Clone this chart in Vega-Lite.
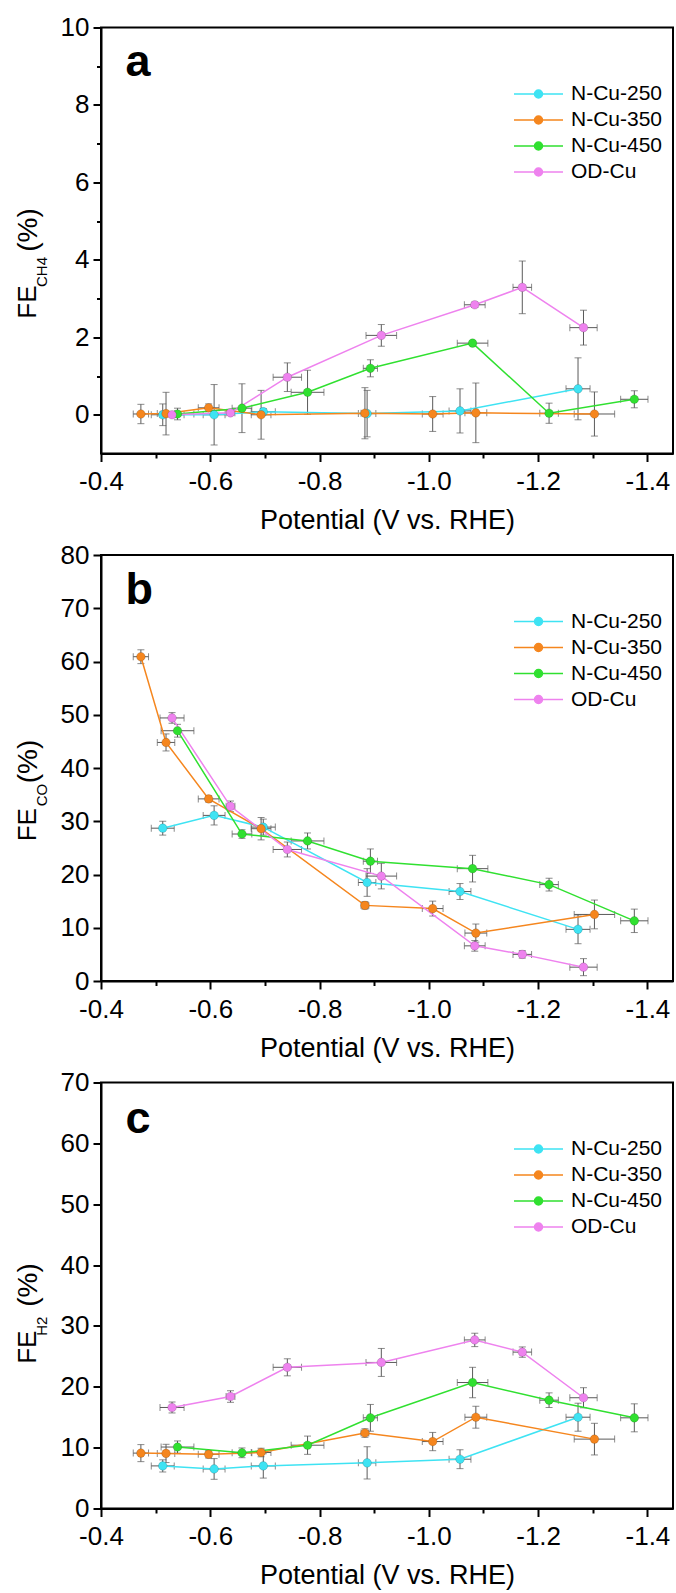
{
  "$schema": "https://vega.github.io/schema/vega-lite/v6.json",
  "padding": {"left": 14, "top": 13.5, "right": 0, "bottom": 0},
  "autosize": {"type": "pad"},
  "background": "white",
  "config": {
    "font": "Liberation Sans",
    "view": {"stroke": "black", "strokeWidth": 2},
    "axis": {
      "domainColor": "black", "domainWidth": 2, "tickColor": "black", "tickWidth": 2,
      "labelColor": "black", "labelFontSize": 26, "labelFont": "Liberation Sans",
      "titleFont": "Liberation Sans", "titleFontSize": 27, "titleFontWeight": "normal", "titleColor": "black",
      "grid": false, "labelOverlap": false, "labelFlush": false
    },
    "axisX": {"labelPadding": 7, "titlePadding": 13},
    "axisY": {"labelPadding": 4},
    "legend": {"labelFont": "Liberation Sans", "labelFontSize": 21, "labelColor": "black"}
  },
  "datasets": {
    "fe": [
      {"p": "a", "s": "N-Cu-250", "v": -0.513, "ev": 0.021, "fe": 0.0, "efe": 0.28},
      {"p": "a", "s": "N-Cu-250", "v": -0.607, "ev": 0.02, "fe": 0.0, "efe": 0.78},
      {"p": "a", "s": "N-Cu-250", "v": -0.697, "ev": 0.022, "fe": 0.08, "efe": 0.08},
      {"p": "a", "s": "N-Cu-250", "v": -0.887, "ev": 0.016, "fe": 0.03, "efe": 0.6},
      {"p": "a", "s": "N-Cu-250", "v": -1.057, "ev": 0.02, "fe": 0.1, "efe": 0.57},
      {"p": "a", "s": "N-Cu-250", "v": -1.273, "ev": 0.022, "fe": 0.67, "efe": 0.8},
      {"p": "a", "s": "N-Cu-350", "v": -0.473, "ev": 0.014, "fe": 0.02, "efe": 0.25},
      {"p": "a", "s": "N-Cu-350", "v": -0.519, "ev": 0.016, "fe": 0.03, "efe": 0.55},
      {"p": "a", "s": "N-Cu-350", "v": -0.597, "ev": 0.019, "fe": 0.18, "efe": 0.1},
      {"p": "a", "s": "N-Cu-350", "v": -0.693, "ev": 0.018, "fe": 0.0, "efe": 0.63},
      {"p": "a", "s": "N-Cu-350", "v": -0.883, "ev": 0.007, "fe": 0.04, "efe": 0.66},
      {"p": "a", "s": "N-Cu-350", "v": -1.007, "ev": 0.019, "fe": 0.02, "efe": 0.45},
      {"p": "a", "s": "N-Cu-350", "v": -1.086, "ev": 0.02, "fe": 0.05, "efe": 0.77},
      {"p": "a", "s": "N-Cu-350", "v": -1.303, "ev": 0.037, "fe": 0.02, "efe": 0.57},
      {"p": "a", "s": "N-Cu-450", "v": -0.54, "ev": 0.03, "fe": 0.02, "efe": 0.15},
      {"p": "a", "s": "N-Cu-450", "v": -0.658, "ev": 0.018, "fe": 0.17, "efe": 0.63},
      {"p": "a", "s": "N-Cu-450", "v": -0.778, "ev": 0.03, "fe": 0.58, "efe": 0.57},
      {"p": "a", "s": "N-Cu-450", "v": -0.893, "ev": 0.013, "fe": 1.2, "efe": 0.22},
      {"p": "a", "s": "N-Cu-450", "v": -1.08, "ev": 0.028, "fe": 1.85, "efe": 0.05},
      {"p": "a", "s": "N-Cu-450", "v": -1.22, "ev": 0.017, "fe": 0.04, "efe": 0.26},
      {"p": "a", "s": "N-Cu-450", "v": -1.376, "ev": 0.025, "fe": 0.4, "efe": 0.22},
      {"p": "a", "s": "OD-Cu", "v": -0.53, "ev": 0.022, "fe": 0.0, "efe": 0.05},
      {"p": "a", "s": "OD-Cu", "v": -0.637, "ev": 0.008, "fe": 0.05, "efe": 0.05},
      {"p": "a", "s": "OD-Cu", "v": -0.741, "ev": 0.026, "fe": 0.97, "efe": 0.37},
      {"p": "a", "s": "OD-Cu", "v": -0.913, "ev": 0.028, "fe": 2.05, "efe": 0.28},
      {"p": "a", "s": "OD-Cu", "v": -1.084, "ev": 0.019, "fe": 2.84, "efe": 0.07},
      {"p": "a", "s": "OD-Cu", "v": -1.171, "ev": 0.017, "fe": 3.29, "efe": 0.68},
      {"p": "a", "s": "OD-Cu", "v": -1.283, "ev": 0.025, "fe": 2.25, "efe": 0.45},

      {"p": "b", "s": "N-Cu-250", "v": -0.513, "ev": 0.021, "fe": 28.7, "efe": 1.3},
      {"p": "b", "s": "N-Cu-250", "v": -0.607, "ev": 0.02, "fe": 31.1, "efe": 1.8},
      {"p": "b", "s": "N-Cu-250", "v": -0.697, "ev": 0.022, "fe": 28.9, "efe": 1.5},
      {"p": "b", "s": "N-Cu-250", "v": -0.887, "ev": 0.016, "fe": 18.5, "efe": 2.6},
      {"p": "b", "s": "N-Cu-250", "v": -1.057, "ev": 0.02, "fe": 16.8, "efe": 1.5},
      {"p": "b", "s": "N-Cu-250", "v": -1.273, "ev": 0.022, "fe": 9.7, "efe": 2.7},
      {"p": "b", "s": "N-Cu-350", "v": -0.473, "ev": 0.014, "fe": 60.9, "efe": 1.3},
      {"p": "b", "s": "N-Cu-350", "v": -0.519, "ev": 0.016, "fe": 44.8, "efe": 1.6},
      {"p": "b", "s": "N-Cu-350", "v": -0.597, "ev": 0.019, "fe": 34.2, "efe": 0.6},
      {"p": "b", "s": "N-Cu-350", "v": -0.693, "ev": 0.018, "fe": 28.6, "efe": 2.1},
      {"p": "b", "s": "N-Cu-350", "v": -0.883, "ev": 0.007, "fe": 14.2, "efe": 0.7},
      {"p": "b", "s": "N-Cu-350", "v": -1.007, "ev": 0.019, "fe": 13.6, "efe": 1.4},
      {"p": "b", "s": "N-Cu-350", "v": -1.086, "ev": 0.02, "fe": 9.0, "efe": 1.7},
      {"p": "b", "s": "N-Cu-350", "v": -1.303, "ev": 0.037, "fe": 12.5, "efe": 2.7},
      {"p": "b", "s": "N-Cu-450", "v": -0.54, "ev": 0.03, "fe": 47.0, "efe": 1.2},
      {"p": "b", "s": "N-Cu-450", "v": -0.658, "ev": 0.018, "fe": 27.6, "efe": 0.8},
      {"p": "b", "s": "N-Cu-450", "v": -0.778, "ev": 0.03, "fe": 26.3, "efe": 1.5},
      {"p": "b", "s": "N-Cu-450", "v": -0.893, "ev": 0.013, "fe": 22.5, "efe": 2.3},
      {"p": "b", "s": "N-Cu-450", "v": -1.08, "ev": 0.028, "fe": 21.1, "efe": 2.5},
      {"p": "b", "s": "N-Cu-450", "v": -1.22, "ev": 0.017, "fe": 18.1, "efe": 1.2},
      {"p": "b", "s": "N-Cu-450", "v": -1.376, "ev": 0.025, "fe": 11.3, "efe": 2.2},
      {"p": "b", "s": "OD-Cu", "v": -0.53, "ev": 0.022, "fe": 49.4, "efe": 1.0},
      {"p": "b", "s": "OD-Cu", "v": -0.637, "ev": 0.008, "fe": 32.8, "efe": 1.0},
      {"p": "b", "s": "OD-Cu", "v": -0.741, "ev": 0.026, "fe": 24.7, "efe": 1.4},
      {"p": "b", "s": "OD-Cu", "v": -0.913, "ev": 0.028, "fe": 19.7, "efe": 2.4},
      {"p": "b", "s": "OD-Cu", "v": -1.084, "ev": 0.019, "fe": 6.6, "efe": 1.0},
      {"p": "b", "s": "OD-Cu", "v": -1.171, "ev": 0.017, "fe": 5.0, "efe": 0.7},
      {"p": "b", "s": "OD-Cu", "v": -1.283, "ev": 0.025, "fe": 2.6, "efe": 1.6},

      {"p": "c", "s": "N-Cu-250", "v": -0.513, "ev": 0.021, "fe": 7.0, "efe": 1.0},
      {"p": "c", "s": "N-Cu-250", "v": -0.607, "ev": 0.02, "fe": 6.5, "efe": 1.7},
      {"p": "c", "s": "N-Cu-250", "v": -0.697, "ev": 0.022, "fe": 7.0, "efe": 2.0},
      {"p": "c", "s": "N-Cu-250", "v": -0.887, "ev": 0.016, "fe": 7.5, "efe": 2.65},
      {"p": "c", "s": "N-Cu-250", "v": -1.057, "ev": 0.02, "fe": 8.1, "efe": 1.55},
      {"p": "c", "s": "N-Cu-250", "v": -1.273, "ev": 0.022, "fe": 15.0, "efe": 2.3},
      {"p": "c", "s": "N-Cu-350", "v": -0.473, "ev": 0.014, "fe": 9.1, "efe": 1.4},
      {"p": "c", "s": "N-Cu-350", "v": -0.519, "ev": 0.016, "fe": 9.05, "efe": 1.5},
      {"p": "c", "s": "N-Cu-350", "v": -0.597, "ev": 0.019, "fe": 8.9, "efe": 0.6},
      {"p": "c", "s": "N-Cu-350", "v": -0.693, "ev": 0.018, "fe": 9.2, "efe": 0.7},
      {"p": "c", "s": "N-Cu-350", "v": -0.883, "ev": 0.007, "fe": 12.4, "efe": 0.7},
      {"p": "c", "s": "N-Cu-350", "v": -1.007, "ev": 0.019, "fe": 11.0, "efe": 1.5},
      {"p": "c", "s": "N-Cu-350", "v": -1.086, "ev": 0.02, "fe": 15.0, "efe": 1.8},
      {"p": "c", "s": "N-Cu-350", "v": -1.303, "ev": 0.037, "fe": 11.4, "efe": 2.6},
      {"p": "c", "s": "N-Cu-450", "v": -0.54, "ev": 0.03, "fe": 10.1, "efe": 1.0},
      {"p": "c", "s": "N-Cu-450", "v": -0.658, "ev": 0.018, "fe": 9.15, "efe": 0.8},
      {"p": "c", "s": "N-Cu-450", "v": -0.778, "ev": 0.03, "fe": 10.4, "efe": 1.5},
      {"p": "c", "s": "N-Cu-450", "v": -0.893, "ev": 0.013, "fe": 14.9, "efe": 2.2},
      {"p": "c", "s": "N-Cu-450", "v": -1.08, "ev": 0.028, "fe": 20.7, "efe": 2.5},
      {"p": "c", "s": "N-Cu-450", "v": -1.22, "ev": 0.017, "fe": 17.8, "efe": 1.2},
      {"p": "c", "s": "N-Cu-450", "v": -1.376, "ev": 0.025, "fe": 14.9, "efe": 2.3},
      {"p": "c", "s": "OD-Cu", "v": -0.53, "ev": 0.022, "fe": 16.6, "efe": 0.9},
      {"p": "c", "s": "OD-Cu", "v": -0.637, "ev": 0.008, "fe": 18.4, "efe": 0.95},
      {"p": "c", "s": "OD-Cu", "v": -0.741, "ev": 0.026, "fe": 23.2, "efe": 1.4},
      {"p": "c", "s": "OD-Cu", "v": -0.913, "ev": 0.028, "fe": 24.0, "efe": 2.3},
      {"p": "c", "s": "OD-Cu", "v": -1.084, "ev": 0.019, "fe": 27.7, "efe": 1.1},
      {"p": "c", "s": "OD-Cu", "v": -1.171, "ev": 0.017, "fe": 25.7, "efe": 0.85},
      {"p": "c", "s": "OD-Cu", "v": -1.283, "ev": 0.025, "fe": 18.2, "efe": 1.65}
    ]
  },
  "bounds": "flush",
  "spacing": 101.5,
  "resolve": {"legend": {"color": "independent"}},
  "vconcat": [
    {
      "width": 572, "height": 426,
      "layer": [
        {"data": {"name": "fe"}, "transform": [{"filter": "datum.p == 'a'"}],
         "mark": {"type": "errorbar", "ticks": {"size": 7}, "color": "#5a5a5a", "thickness": 1},
         "encoding": {
           "x": {"field": "v", "type": "quantitative", "scale": {"domain": [-0.4, -1.4468], "nice": false, "zero": false},
                 "axis": {"values": [-0.4, -0.5, -0.6, -0.7, -0.8, -0.9, -1.0, -1.1, -1.2, -1.3, -1.4],
                          "labelExpr": "abs(round(datum.value*10)) % 2 == 0 ? '-' + format(abs(datum.value), '.1f') : ''",
                          "tickSize": {"condition": {"test": "abs(round(datum.value*10)) % 2 == 0", "value": 8}, "value": 4.5},
                          "title": "Potential (V vs. RHE)"}},
           "y": {"field": "fe", "type": "quantitative", "scale": {"domain": [-1, 10], "nice": false, "zero": false},
                 "axis": {"values": [0, 1, 2, 3, 4, 5, 6, 7, 8, 9, 10],
                          "labelExpr": "round(datum.value) % 2 == 0 ? format(datum.value, 'd') : ''",
                          "tickSize": {"condition": {"test": "round(datum.value) % 2 == 0", "value": 8}, "value": 4.5},
                          "title": null}},
           "yError": {"field": "efe"}}},
        {"data": {"name": "fe"}, "transform": [{"filter": "datum.p == 'a'"}],
         "mark": {"type": "errorbar", "ticks": {"size": 7}, "color": "#5a5a5a", "thickness": 1},
         "encoding": {
           "x": {"field": "v", "type": "quantitative", "axis": {"title": "Potential (V vs. RHE)"}},
           "y": {"field": "fe", "type": "quantitative", "axis": {"title": null}},
           "xError": {"field": "ev"}}},
        {"data": {"name": "fe"}, "transform": [{"filter": "datum.p == 'a'"}],
         "mark": {"type": "line", "strokeWidth": 1.5},
         "encoding": {
           "x": {"field": "v", "type": "quantitative", "axis": {"title": "Potential (V vs. RHE)"}},
           "y": {"field": "fe", "type": "quantitative", "axis": {"title": null}},
           "color": {"field": "s", "type": "nominal",
            "scale": {"domain": ["N-Cu-250", "N-Cu-350", "N-Cu-450", "OD-Cu"], "range": ["#3ee3f3", "#f5861e", "#30e030", "#ee82ee"]},
            "legend": {"orient": "none", "legendX": 426.5, "legendY": 55.5, "title": null, "padding": 0,
                       "symbolType": "M-2.45,0H-0.4M0.4,0H2.45M-0.4,0A0.4,0.4,0,1,1,0.4,0A0.4,0.4,0,1,1,-0.4,0Z",
                       "symbolSize": 400, "symbolStrokeWidth": 1.5, "labelOffset": 21.5, "rowPadding": 5,
                       "encode": {"symbols": {"update": {"fill": {"scale": "color", "field": "value"}, "stroke": {"scale": "color", "field": "value"}, "opacity": {"value": 1}}}}}}}},
        {"data": {"name": "fe"}, "transform": [{"filter": "datum.p == 'a'"}],
         "mark": {"type": "point", "filled": true, "size": 75, "opacity": 1, "stroke": "#00000040", "strokeWidth": 0.6},
         "encoding": {
           "x": {"field": "v", "type": "quantitative", "axis": {"title": "Potential (V vs. RHE)"}},
           "y": {"field": "fe", "type": "quantitative", "axis": {"title": null}},
           "color": {"field": "s", "type": "nominal",
            "scale": {"domain": ["N-Cu-250", "N-Cu-350", "N-Cu-450", "OD-Cu"], "range": ["#3ee3f3", "#f5861e", "#30e030", "#ee82ee"]},
            "legend": {"orient": "none", "legendX": 426.5, "legendY": 55.5, "title": null, "padding": 0,
                       "symbolType": "M-2.45,0H-0.4M0.4,0H2.45M-0.4,0A0.4,0.4,0,1,1,0.4,0A0.4,0.4,0,1,1,-0.4,0Z",
                       "symbolSize": 400, "symbolStrokeWidth": 1.5, "labelOffset": 21.5, "rowPadding": 5,
                       "encode": {"symbols": {"update": {"fill": {"scale": "color", "field": "value"}, "stroke": {"scale": "color", "field": "value"}, "opacity": {"value": 1}}}}}}}},
        {"data": {"values": [{"label": "a"}]},
         "mark": {"type": "text", "align": "left", "baseline": "alphabetic", "fontSize": 45, "fontWeight": "bold", "color": "black"},
         "encoding": {"text": {"field": "label"}, "x": {"datum": -0.4448, "type": "quantitative"}, "y": {"datum": 8.753, "type": "quantitative"}}},
        {"data": {"values": [{"label": "FE"}]},
         "mark": {"type": "text", "angle": 270, "align": "left", "baseline": "alphabetic", "fontSize": 26, "color": "black"},
         "encoding": {"text": {"field": "label"}, "x": {"datum": -0.2811, "type": "quantitative"}, "y": {"datum": 2.48, "type": "quantitative"}}},
        {"data": {"values": [{"label": "CH4"}]},
         "mark": {"type": "text", "angle": 270, "align": "left", "baseline": "alphabetic", "fontSize": 15, "color": "black"},
         "encoding": {"text": {"field": "label"}, "x": {"datum": -0.3012, "type": "quantitative"}, "y": {"datum": 3.3, "type": "quantitative"}}},
        {"data": {"values": [{"label": "(%)"}]},
         "mark": {"type": "text", "angle": 270, "align": "left", "baseline": "alphabetic", "fontSize": 28, "color": "black"},
         "encoding": {"text": {"field": "label"}, "x": {"datum": -0.2829, "type": "quantitative"}, "y": {"datum": 4.21, "type": "quantitative"}}}
      ]
    },
    {
      "width": 572, "height": 426,
      "layer": [
        {"data": {"name": "fe"}, "transform": [{"filter": "datum.p == 'b'"}],
         "mark": {"type": "errorbar", "ticks": {"size": 7}, "color": "#5a5a5a", "thickness": 1},
         "encoding": {
           "x": {"field": "v", "type": "quantitative", "scale": {"domain": [-0.4, -1.4468], "nice": false, "zero": false},
                 "axis": {"values": [-0.4, -0.5, -0.6, -0.7, -0.8, -0.9, -1.0, -1.1, -1.2, -1.3, -1.4],
                          "labelExpr": "abs(round(datum.value*10)) % 2 == 0 ? '-' + format(abs(datum.value), '.1f') : ''",
                          "tickSize": {"condition": {"test": "abs(round(datum.value*10)) % 2 == 0", "value": 8}, "value": 4.5},
                          "title": "Potential (V vs. RHE)"}},
           "y": {"field": "fe", "type": "quantitative", "scale": {"domain": [0, 80], "nice": false, "zero": false},
                 "axis": {"values": [0, 5, 10, 15, 20, 25, 30, 35, 40, 45, 50, 55, 60, 65, 70, 75, 80],
                          "labelExpr": "datum.value % 10 == 0 ? format(datum.value, 'd') : ''",
                          "tickSize": {"condition": {"test": "datum.value % 10 == 0", "value": 8}, "value": 4.5},
                          "title": null}},
           "yError": {"field": "efe"}}},
        {"data": {"name": "fe"}, "transform": [{"filter": "datum.p == 'b'"}],
         "mark": {"type": "errorbar", "ticks": {"size": 7}, "color": "#5a5a5a", "thickness": 1},
         "encoding": {
           "x": {"field": "v", "type": "quantitative", "axis": {"title": "Potential (V vs. RHE)"}},
           "y": {"field": "fe", "type": "quantitative", "axis": {"title": null}},
           "xError": {"field": "ev"}}},
        {"data": {"name": "fe"}, "transform": [{"filter": "datum.p == 'b'"}],
         "mark": {"type": "line", "strokeWidth": 1.5},
         "encoding": {
           "x": {"field": "v", "type": "quantitative", "axis": {"title": "Potential (V vs. RHE)"}},
           "y": {"field": "fe", "type": "quantitative", "axis": {"title": null}},
           "color": {"field": "s", "type": "nominal",
            "scale": {"domain": ["N-Cu-250", "N-Cu-350", "N-Cu-450", "OD-Cu"], "range": ["#3ee3f3", "#f5861e", "#30e030", "#ee82ee"]},
            "legend": {"orient": "none", "legendX": 426.5, "legendY": 55.5, "title": null, "padding": 0,
                       "symbolType": "M-2.45,0H-0.4M0.4,0H2.45M-0.4,0A0.4,0.4,0,1,1,0.4,0A0.4,0.4,0,1,1,-0.4,0Z",
                       "symbolSize": 400, "symbolStrokeWidth": 1.5, "labelOffset": 21.5, "rowPadding": 5,
                       "encode": {"symbols": {"update": {"fill": {"scale": "color", "field": "value"}, "stroke": {"scale": "color", "field": "value"}, "opacity": {"value": 1}}}}}}}},
        {"data": {"name": "fe"}, "transform": [{"filter": "datum.p == 'b'"}],
         "mark": {"type": "point", "filled": true, "size": 75, "opacity": 1, "stroke": "#00000040", "strokeWidth": 0.6},
         "encoding": {
           "x": {"field": "v", "type": "quantitative", "axis": {"title": "Potential (V vs. RHE)"}},
           "y": {"field": "fe", "type": "quantitative", "axis": {"title": null}},
           "color": {"field": "s", "type": "nominal",
            "scale": {"domain": ["N-Cu-250", "N-Cu-350", "N-Cu-450", "OD-Cu"], "range": ["#3ee3f3", "#f5861e", "#30e030", "#ee82ee"]},
            "legend": {"orient": "none", "legendX": 426.5, "legendY": 55.5, "title": null, "padding": 0,
                       "symbolType": "M-2.45,0H-0.4M0.4,0H2.45M-0.4,0A0.4,0.4,0,1,1,0.4,0A0.4,0.4,0,1,1,-0.4,0Z",
                       "symbolSize": 400, "symbolStrokeWidth": 1.5, "labelOffset": 21.5, "rowPadding": 5,
                       "encode": {"symbols": {"update": {"fill": {"scale": "color", "field": "value"}, "stroke": {"scale": "color", "field": "value"}, "opacity": {"value": 1}}}}}}}},
        {"data": {"values": [{"label": "b"}]},
         "mark": {"type": "text", "align": "left", "baseline": "alphabetic", "fontSize": 45, "fontWeight": "bold", "color": "black"},
         "encoding": {"text": {"field": "label"}, "x": {"datum": -0.4448, "type": "quantitative"}, "y": {"datum": 70.8, "type": "quantitative"}}},
        {"data": {"values": [{"label": "FE"}]},
         "mark": {"type": "text", "angle": 270, "align": "left", "baseline": "alphabetic", "fontSize": 26, "color": "black"},
         "encoding": {"text": {"field": "label"}, "x": {"datum": -0.2811, "type": "quantitative"}, "y": {"datum": 26.23, "type": "quantitative"}}},
        {"data": {"values": [{"label": "CO"}]},
         "mark": {"type": "text", "angle": 270, "align": "left", "baseline": "alphabetic", "fontSize": 15, "color": "black"},
         "encoding": {"text": {"field": "label"}, "x": {"datum": -0.3012, "type": "quantitative"}, "y": {"datum": 32.81, "type": "quantitative"}}},
        {"data": {"values": [{"label": "(%)"}]},
         "mark": {"type": "text", "angle": 270, "align": "left", "baseline": "alphabetic", "fontSize": 28, "color": "black"},
         "encoding": {"text": {"field": "label"}, "x": {"datum": -0.2829, "type": "quantitative"}, "y": {"datum": 37.13, "type": "quantitative"}}}
      ]
    },
    {
      "width": 572, "height": 426,
      "layer": [
        {"data": {"name": "fe"}, "transform": [{"filter": "datum.p == 'c'"}],
         "mark": {"type": "errorbar", "ticks": {"size": 7}, "color": "#5a5a5a", "thickness": 1},
         "encoding": {
           "x": {"field": "v", "type": "quantitative", "scale": {"domain": [-0.4, -1.4468], "nice": false, "zero": false},
                 "axis": {"values": [-0.4, -0.5, -0.6, -0.7, -0.8, -0.9, -1.0, -1.1, -1.2, -1.3, -1.4],
                          "labelExpr": "abs(round(datum.value*10)) % 2 == 0 ? '-' + format(abs(datum.value), '.1f') : ''",
                          "tickSize": {"condition": {"test": "abs(round(datum.value*10)) % 2 == 0", "value": 8}, "value": 4.5},
                          "title": "Potential (V vs. RHE)"}},
           "y": {"field": "fe", "type": "quantitative", "scale": {"domain": [0, 70], "nice": false, "zero": false},
                 "axis": {"values": [0, 5, 10, 15, 20, 25, 30, 35, 40, 45, 50, 55, 60, 65, 70],
                          "labelExpr": "datum.value % 10 == 0 ? format(datum.value, 'd') : ''",
                          "tickSize": {"condition": {"test": "datum.value % 10 == 0", "value": 8}, "value": 4.5},
                          "title": null}},
           "yError": {"field": "efe"}}},
        {"data": {"name": "fe"}, "transform": [{"filter": "datum.p == 'c'"}],
         "mark": {"type": "errorbar", "ticks": {"size": 7}, "color": "#5a5a5a", "thickness": 1},
         "encoding": {
           "x": {"field": "v", "type": "quantitative", "axis": {"title": "Potential (V vs. RHE)"}},
           "y": {"field": "fe", "type": "quantitative", "axis": {"title": null}},
           "xError": {"field": "ev"}}},
        {"data": {"name": "fe"}, "transform": [{"filter": "datum.p == 'c'"}],
         "mark": {"type": "line", "strokeWidth": 1.5},
         "encoding": {
           "x": {"field": "v", "type": "quantitative", "axis": {"title": "Potential (V vs. RHE)"}},
           "y": {"field": "fe", "type": "quantitative", "axis": {"title": null}},
           "color": {"field": "s", "type": "nominal",
            "scale": {"domain": ["N-Cu-250", "N-Cu-350", "N-Cu-450", "OD-Cu"], "range": ["#3ee3f3", "#f5861e", "#30e030", "#ee82ee"]},
            "legend": {"orient": "none", "legendX": 426.5, "legendY": 55.5, "title": null, "padding": 0,
                       "symbolType": "M-2.45,0H-0.4M0.4,0H2.45M-0.4,0A0.4,0.4,0,1,1,0.4,0A0.4,0.4,0,1,1,-0.4,0Z",
                       "symbolSize": 400, "symbolStrokeWidth": 1.5, "labelOffset": 21.5, "rowPadding": 5,
                       "encode": {"symbols": {"update": {"fill": {"scale": "color", "field": "value"}, "stroke": {"scale": "color", "field": "value"}, "opacity": {"value": 1}}}}}}}},
        {"data": {"name": "fe"}, "transform": [{"filter": "datum.p == 'c'"}],
         "mark": {"type": "point", "filled": true, "size": 75, "opacity": 1, "stroke": "#00000040", "strokeWidth": 0.6},
         "encoding": {
           "x": {"field": "v", "type": "quantitative", "axis": {"title": "Potential (V vs. RHE)"}},
           "y": {"field": "fe", "type": "quantitative", "axis": {"title": null}},
           "color": {"field": "s", "type": "nominal",
            "scale": {"domain": ["N-Cu-250", "N-Cu-350", "N-Cu-450", "OD-Cu"], "range": ["#3ee3f3", "#f5861e", "#30e030", "#ee82ee"]},
            "legend": {"orient": "none", "legendX": 426.5, "legendY": 55.5, "title": null, "padding": 0,
                       "symbolType": "M-2.45,0H-0.4M0.4,0H2.45M-0.4,0A0.4,0.4,0,1,1,0.4,0A0.4,0.4,0,1,1,-0.4,0Z",
                       "symbolSize": 400, "symbolStrokeWidth": 1.5, "labelOffset": 21.5, "rowPadding": 5,
                       "encode": {"symbols": {"update": {"fill": {"scale": "color", "field": "value"}, "stroke": {"scale": "color", "field": "value"}, "opacity": {"value": 1}}}}}}}},
        {"data": {"values": [{"label": "c"}]},
         "mark": {"type": "text", "align": "left", "baseline": "alphabetic", "fontSize": 45, "fontWeight": "bold", "color": "black"},
         "encoding": {"text": {"field": "label"}, "x": {"datum": -0.4448, "type": "quantitative"}, "y": {"datum": 61.78, "type": "quantitative"}}},
        {"data": {"values": [{"label": "FE"}]},
         "mark": {"type": "text", "angle": 270, "align": "left", "baseline": "alphabetic", "fontSize": 26, "color": "black"},
         "encoding": {"text": {"field": "label"}, "x": {"datum": -0.2811, "type": "quantitative"}, "y": {"datum": 23.78, "type": "quantitative"}}},
        {"data": {"values": [{"label": "H2"}]},
         "mark": {"type": "text", "angle": 270, "align": "left", "baseline": "alphabetic", "fontSize": 15, "color": "black"},
         "encoding": {"text": {"field": "label"}, "x": {"datum": -0.3012, "type": "quantitative"}, "y": {"datum": 28.38, "type": "quantitative"}}},
        {"data": {"values": [{"label": "(%)"}]},
         "mark": {"type": "text", "angle": 270, "align": "left", "baseline": "alphabetic", "fontSize": 28, "color": "black"},
         "encoding": {"text": {"field": "label"}, "x": {"datum": -0.2829, "type": "quantitative"}, "y": {"datum": 33.14, "type": "quantitative"}}}
      ]
    }
  ]
}
